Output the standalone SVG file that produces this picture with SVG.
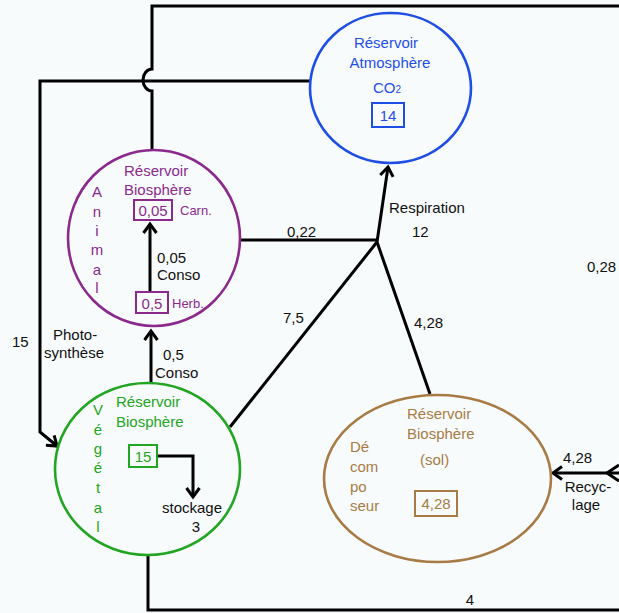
<svg xmlns="http://www.w3.org/2000/svg" width="619" height="613" viewBox="0 0 619 613">
  <style>
    text { font-family: "Liberation Sans", Arial, sans-serif; font-size: 15px; fill: #111; }
    .link { fill: none; stroke: #000; stroke-width: 3; stroke-linejoin: miter; }
    .ring { fill: none; stroke-width: 2.6; }
    .box { fill: none; stroke-width: 2; }
    .atm { stroke: #1f4ee6; } .atm-t { fill: #1f4ee6; }
    .ani { stroke: #8a2a8c; } .ani-t { fill: #8a2a8c; }
    .veg { stroke: #22a522; } .veg-t { fill: #22a522; }
    .sol { stroke: #a77b45; } .sol-t { fill: #a77b45; }
    .small { font-size: 13px; }
    .mid { text-anchor: middle; }
  </style>
  <defs>
    <marker id="head" markerUnits="userSpaceOnUse" markerWidth="20" markerHeight="20" viewBox="-12 -10 14 20" refX="0" refY="0" orient="auto">
      <path d="M-9,-6.5 L0,0 L-9,6.5" fill="none" stroke="#000" stroke-width="3"/>
    </marker>
  </defs>

  <rect width="619" height="613" fill="#f8fbfc"/>

  <!-- connectors -->
  <g id="connectors">
    <path class="link" d="M152,150 V91 A9,11 0 0 1 152,69 V6 H619"/>
    <path class="link" d="M311,81 H40 V432 L57,446" marker-end="url(#head)"/>
    <path class="link" d="M240,240 H377"/>
    <path class="link" d="M230,427 L377,242"/>
    <path class="link" d="M430,394 L377,242"/>
    <path class="link" d="M377,242 L388,167" marker-end="url(#head)"/>
    <path class="link" d="M150,292 V224" marker-end="url(#head)"/>
    <path class="link" d="M151,383 V331" marker-end="url(#head)"/>
    <path class="link" d="M157,456 H193 V497" marker-end="url(#head)"/>
    <path class="link" d="M148,555 V610 H619"/>
    <path class="link" d="M619,473 H553" marker-end="url(#head)"/>
    <path class="link" d="M619,465 L607,473 L619,481"/>

    <text x="287" y="237">0,22</text>
    <text x="283" y="323">7,5</text>
    <text x="389" y="213">Respiration</text>
    <text x="412" y="237">12</text>
    <text x="414" y="328">4,28</text>
    <text x="587" y="272">0,28</text>
    <text x="12" y="347">15</text>
    <text x="53" y="340">Photo-</text>
    <text x="44" y="358">synthèse</text>
    <text x="163" y="360">0,5</text>
    <text x="155" y="378">Conso</text>
    <text x="157" y="263">0,05</text>
    <text x="157" y="280">Conso</text>
    <text x="162" y="513">stockage</text>
    <text x="196" y="532" class="mid">3</text>
    <text x="470" y="605" class="mid">4</text>
    <text x="563" y="463">4,28</text>
    <text x="588" y="492" class="mid">Recyc-</text>
    <text x="586" y="510" class="mid">lage</text>
  </g>

  <!-- atmosphere reservoir -->
  <g id="atmosphere">
    <ellipse class="ring atm" cx="390.5" cy="88" rx="80.5" ry="75"/>
    <text class="atm-t mid" x="386" y="48" font-size="14">Réservoir</text>
    <text class="atm-t mid" x="390" y="68" font-size="14">Atmosphère</text>
    <text class="atm-t mid" x="387" y="93" font-size="14">CO<tspan font-size="10">2</tspan></text>
    <rect class="box atm" x="372" y="103" width="32" height="24"/>
    <text class="atm-t mid" x="388" y="121">14</text>
  </g>

  <!-- animal biosphere reservoir -->
  <g id="animal">
    <ellipse class="ring ani" cx="154" cy="238" rx="86" ry="88"/>
    <text class="ani-t" x="124" y="176">Réservoir</text>
    <text class="ani-t" x="124" y="195">Biosphère</text>
    <rect class="box ani" x="134" y="200" width="38" height="20"/>
    <text class="ani-t mid" x="153" y="216" font-size="16">0,05</text>
    <text class="ani-t small" x="180" y="215">Carn.</text>
    <rect class="box ani" x="136" y="292" width="32" height="21"/>
    <text class="ani-t mid" x="152" y="309" font-size="16">0,5</text>
    <text class="ani-t small" x="172" y="308">Herb.</text>
    <g text-anchor="middle">
      <text class="ani-t" x="97" y="197">A</text>
      <text class="ani-t" x="97" y="217">n</text>
      <text class="ani-t" x="97" y="236">i</text>
      <text class="ani-t" x="97" y="255">m</text>
      <text class="ani-t" x="97" y="275">a</text>
      <text class="ani-t" x="97" y="293">l</text>
    </g>
  </g>

  <!-- plant biosphere reservoir -->
  <g id="vegetal">
    <ellipse class="ring veg" cx="147.5" cy="469" rx="92.5" ry="86"/>
    <text class="veg-t" x="116" y="407">Réservoir</text>
    <text class="veg-t" x="116" y="427">Biosphère</text>
    <rect class="box veg" x="129" y="445" width="28" height="22"/>
    <text class="veg-t mid" x="143" y="462">15</text>
    <g text-anchor="middle">
      <text class="veg-t" x="98" y="415">V</text>
      <text class="veg-t" x="98" y="435">é</text>
      <text class="veg-t" x="98" y="454">g</text>
      <text class="veg-t" x="98" y="473">é</text>
      <text class="veg-t" x="98" y="493">t</text>
      <text class="veg-t" x="98" y="513">a</text>
      <text class="veg-t" x="98" y="532">l</text>
    </g>
  </g>

  <!-- soil decomposer reservoir -->
  <g id="sol">
    <ellipse class="ring sol" cx="437.5" cy="478.5" rx="113.5" ry="83.5"/>
    <text class="sol-t" x="407" y="419">Réservoir</text>
    <text class="sol-t" x="407" y="439">Biosphère</text>
    <text class="sol-t" x="420" y="465">(sol)</text>
    <text class="sol-t" x="350" y="452">Dé</text>
    <text class="sol-t" x="350" y="472">com</text>
    <text class="sol-t" x="350" y="492">po</text>
    <text class="sol-t" x="350" y="511">seur</text>
    <rect class="box sol" x="415" y="491" width="42" height="25"/>
    <text class="sol-t mid" x="436" y="509">4,28</text>
  </g>
</svg>
